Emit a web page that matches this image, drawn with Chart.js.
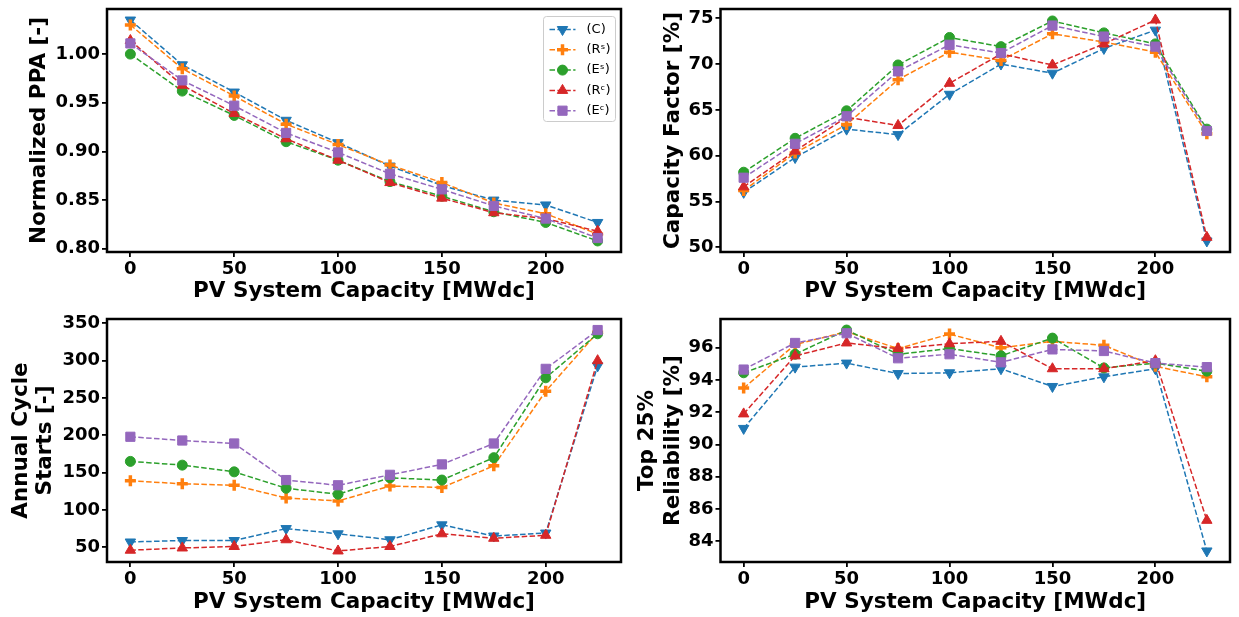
<!DOCTYPE html>
<html>
<head>
<meta charset="utf-8">
<script src="https://cdn.jsdelivr.net/npm/chart.js@4/dist/chart.umd.min.js"></script>
<style>
  body { margin: 0; background: #fff; }
  #wrap { position: relative; width: 1239px; height: 617px; }
  canvas { position: absolute; }
</style>
</head>
<body>
<div id="wrap">
  <canvas id="ppa" width="630" height="308" style="left:0;top:0"></canvas>
  <canvas id="cf" width="609" height="308" style="left:630px;top:0"></canvas>
  <canvas id="starts" width="630" height="307" style="left:0;top:310px"></canvas>
  <canvas id="rel" width="609" height="307" style="left:630px;top:310px"></canvas>
</div>
<script>
// PV capacity sweep, one value per case
var capacity = [0, 25, 50, 75, 100, 125, 150, 175, 200, 225];
var xTicks = [0, 50, 100, 150, 200];
var caseLabels = ['(C)', '(R\u02E2)', '(E\u02E2)', '(R\u1D9C)', '(E\u1D9C)'];

// normalized PPA
var ppaC  = [1.035, 0.989, 0.961, 0.932, 0.909, 0.885, 0.865, 0.850, 0.845, 0.827];
var ppaRs = [1.030, 0.985, 0.957, 0.928, 0.907, 0.886, 0.868, 0.847, 0.836, 0.815];
var ppaEs = [1.000, 0.962, 0.937, 0.910, 0.891, 0.869, 0.854, 0.838, 0.827, 0.808];
var ppaRc = [1.014, 0.968, 0.939, 0.913, 0.891, 0.868, 0.852, 0.837, 0.831, 0.818];
var ppaEc = [1.011, 0.973, 0.947, 0.919, 0.899, 0.877, 0.861, 0.844, 0.831, 0.811];
var ppaTicks = [0.80, 0.85, 0.90, 0.95, 1.00];

// capacity factor [%]
var cfC  = [56.0, 59.8, 62.9, 62.3, 66.7, 70.0, 69.0, 71.7, 73.7, 50.7];
var cfRs = [56.2, 60.3, 63.4, 68.3, 71.3, 70.4, 73.3, 72.4, 71.3, 62.4];
var cfEs = [58.2, 61.9, 64.9, 69.9, 72.9, 71.9, 74.7, 73.4, 72.2, 62.9];
var cfRc = [56.6, 60.5, 64.2, 63.3, 67.9, 71.1, 69.9, 72.2, 74.8, 51.1];
var cfEc = [57.6, 61.3, 64.3, 69.2, 72.1, 71.2, 74.2, 73.0, 71.9, 62.7];
var cfTicks = [50, 55, 60, 65, 70, 75];

// annual cycle starts
var stC  = [57, 59, 59, 75, 68, 60, 80, 65, 69, 293];
var stRs = [139, 135, 133, 116, 112, 132, 130, 159, 259, 338];
var stEs = [165, 160, 151, 129, 121, 143, 140, 170, 277, 336];
var stRc = [46, 49, 51, 60, 45, 51, 68, 62, 66, 300];
var stEc = [198, 193, 189, 140, 133, 147, 161, 189, 289, 341];
var stTicks = [50, 100, 150, 200, 250, 300, 350];

// top 25% reliability [%]
var relC  = [91.0, 94.8, 95.05, 94.4, 94.45, 94.7, 93.6, 94.2, 94.7, 83.4];
var relRs = [93.5, 96.2, 97.0, 95.95, 96.85, 96.0, 96.4, 96.15, 94.85, 94.2];
var relEs = [94.45, 95.6, 97.1, 95.6, 95.95, 95.5, 96.6, 94.75, 95.05, 94.55];
var relRc = [91.9, 95.5, 96.3, 95.95, 96.25, 96.4, 94.7, 94.7, 95.2, 85.3];
var relEc = [94.65, 96.3, 96.9, 95.35, 95.6, 95.1, 95.9, 95.8, 95.05, 94.8];
var relTicks = [84, 86, 88, 90, 92, 94, 96];

var FONT = 'DejaVu Sans';
var colors = ['#1f77b4', '#ff7f0e', '#2ca02c', '#d62728', '#9467bd'];
var markers = [
  { pointStyle: 'triangle', pointRotation: 180, pointRadius: 6, pointBorderWidth: 1 },
  { pointStyle: 'cross', pointRotation: 0, pointRadius: 5.5, pointBorderWidth: 3.5 },
  { pointStyle: 'circle', pointRotation: 0, pointRadius: 5, pointBorderWidth: 1 },
  { pointStyle: 'triangle', pointRotation: 0, pointRadius: 6, pointBorderWidth: 1 },
  { pointStyle: 'rect', pointRotation: 0, pointRadius: 6.5, pointBorderWidth: 1 }
];

// 5% margin around the data, like matplotlib autoscaling
function padRange(lo, hi) {
  var m = (hi - lo) * 0.05;
  return { min: lo - m, max: hi + m };
}
var xRange = padRange(capacity[0], capacity[capacity.length - 1]);

// thick black box around the plot area
var frame = {
  id: 'frame',
  afterDraw: function (chart) {
    var a = chart.chartArea, ctx = chart.ctx;
    ctx.save();
    ctx.strokeStyle = 'black';
    ctx.lineWidth = 2.5;
    ctx.strokeRect(a.left, a.top, a.right - a.left, a.bottom - a.top);
    ctx.restore();
  }
};

// matplotlib style legend box in the upper right corner
var caseLegend = {
  id: 'caseLegend',
  afterDraw: function (chart) {
    var ctx = chart.ctx, area = chart.chartArea;
    var sets = chart.data.datasets;
    var w = 72, rowH = 20.3, h = sets.length * rowH + 3.5;
    var left = area.right - 5.5 - w, top = area.top + 7.5;
    ctx.save();
    ctx.beginPath();
    ctx.roundRect(left, top, w, h, 3);
    ctx.fillStyle = 'rgba(255,255,255,0.8)';
    ctx.fill();
    ctx.strokeStyle = '#cccccc';
    ctx.lineWidth = 1;
    ctx.stroke();
    sets.forEach(function (ds, i) {
      var cy = top + 13 + i * rowH;
      ctx.strokeStyle = ds.borderColor;
      ctx.lineWidth = ds.borderWidth;
      ctx.setLineDash(ds.borderDash);
      ctx.beginPath();
      ctx.moveTo(left + 6, cy);
      ctx.lineTo(left + 32, cy);
      ctx.stroke();
      ctx.setLineDash([]);
      ctx.fillStyle = ds.pointBackgroundColor;
      ctx.strokeStyle = ds.pointBorderColor;
      ctx.lineWidth = ds.pointBorderWidth;
      Chart.helpers.drawPoint(ctx, {
        pointStyle: ds.pointStyle, rotation: ds.pointRotation,
        radius: ds.pointRadius, borderWidth: ds.pointBorderWidth
      }, left + 19, cy);
      ctx.fillStyle = 'black';
      ctx.font = '13px "' + FONT + '"';
      ctx.textBaseline = 'middle';
      ctx.textAlign = 'left';
      ctx.fillText(ds.label, left + 43, cy);
    });
    ctx.restore();
  }
};

function makePanel(id, series, yTicks, yFmt, yTitle, p) {
  var all = [].concat.apply([], series);
  var yRange = padRange(Math.min.apply(null, all), Math.max.apply(null, all));
  var datasets = series.map(function (vals, i) {
    var m = markers[i];
    return {
      label: caseLabels[i],
      data: vals.map(function (v, j) { return { x: capacity[j], y: v }; }),
      borderColor: colors[i],
      backgroundColor: colors[i],
      pointBackgroundColor: colors[i],
      pointBorderColor: colors[i],
      borderWidth: 1.5,
      borderDash: [5.5, 2.4],
      pointStyle: m.pointStyle,
      pointRotation: m.pointRotation,
      pointRadius: m.pointRadius,
      pointBorderWidth: m.pointBorderWidth,
      tension: 0,
      fill: false,
      order: series.length - 1 - i
    };
  });
  var tickFont = { family: FONT, size: 18, weight: 'bold' };
  var titleFont = { family: FONT, size: 21.5, weight: 'bold', lineHeight: p.yLine || 1.2 };
  return new Chart(document.getElementById(id), {
    type: 'line',
    data: { datasets: datasets },
    plugins: p.legend ? [frame, caseLegend] : [frame],
    options: {
      responsive: false,
      animation: false,
      layout: { padding: { top: p.top, right: p.right, left: 0, bottom: 0 } },
      plugins: { legend: { display: false }, tooltip: { enabled: false } },
      scales: {
        x: {
          type: 'linear',
          min: xRange.min,
          max: xRange.max,
          afterBuildTicks: function (s) { s.ticks = xTicks.map(function (v) { return { value: v }; }); },
          afterFit: function (s) { s.height = p.xHeight; s.paddingLeft = 0; s.paddingRight = 0; },
          grid: { drawOnChartArea: false, color: 'black', lineWidth: 1.8, tickLength: 5 },
          border: { display: false },
          ticks: { color: 'black', font: tickFont, padding: 2, maxRotation: 0, autoSkip: false },
          title: {
            display: true, text: 'PV System Capacity [MWdc]', color: 'black',
            font: { family: FONT, size: 21.5, weight: 'bold', lineHeight: 1.2 },
            padding: { top: 0, bottom: p.xPad }
          }
        },
        y: {
          type: 'linear',
          min: yRange.min,
          max: yRange.max,
          afterBuildTicks: function (s) { s.ticks = yTicks.map(function (v) { return { value: v }; }); },
          afterFit: function (s) { s.width = p.yWidth; s.paddingTop = 0; s.paddingBottom = 0; },
          grid: { drawOnChartArea: false, color: 'black', lineWidth: 1.8, tickLength: 5 },
          border: { display: false },
          ticks: { color: 'black', font: tickFont, padding: 2, autoSkip: false, callback: yFmt },
          title: {
            display: true, text: yTitle, color: 'black', font: titleFont,
            padding: { top: p.yPad, bottom: 0 }
          }
        }
      }
    }
  });
}

function fixed2(v) { return v.toFixed(2); }
function whole(v) { return String(v); }

makePanel('ppa', [ppaC, ppaRs, ppaEs, ppaRc, ppaEc], ppaTicks, fixed2, 'Normalized PPA [-]',
  { top: 5.5, right: 5.5, yWidth: 107, xHeight: 56, yPad: 26.6, xPad: 3.6, legend: true });
makePanel('cf', [cfC, cfRs, cfEs, cfRc, cfEc], cfTicks, whole, 'Capacity Factor [%]',
  { top: 5.5, right: 5.5, yWidth: 90.5, xHeight: 56, yPad: 30.6, xPad: 3.6 });
makePanel('starts', [stC, stRs, stEs, stRc, stEc], stTicks, whole, ['Annual Cycle', 'Starts [-]'],
  { top: 6.5, right: 5.5, yWidth: 107, xHeight: 55, yPad: 10.1, xPad: 1.6, yLine: '23.4px' });
makePanel('rel', [relC, relRs, relEs, relRc, relEc], relTicks, whole, ['Top 25%', 'Reliability [%]'],
  { top: 6, right: 5.5, yWidth: 90.5, xHeight: 55, yPad: 4.5, xPad: 1.6, yLine: '26px' });
</script>
</body>
</html>
